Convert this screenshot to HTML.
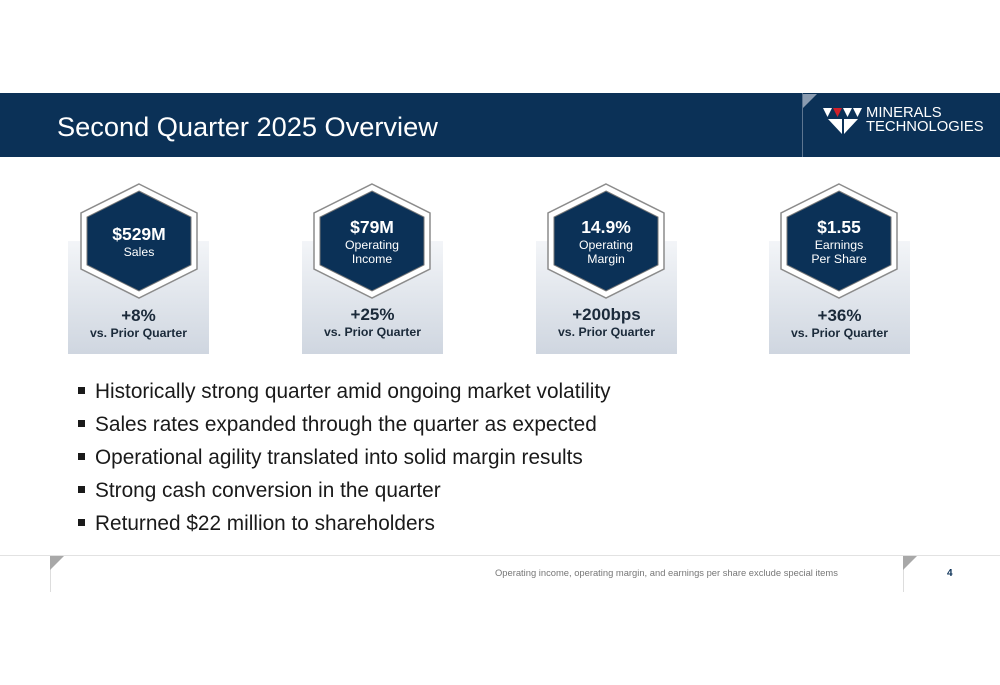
<!DOCTYPE html>
<html><head><meta charset="utf-8"><style>
body{margin:0;width:1000px;height:685px;position:relative;background:#fff;font-family:"Liberation Sans",Arial,sans-serif;overflow:hidden}
.abs{position:absolute}
.box{position:absolute;top:241px;width:141px;height:113px;background:linear-gradient(#f3f5f8,#cfd6e0)}
.pct{position:absolute;width:141px;text-align:center;color:#1b2a3a;font-weight:bold}
.pct .a{font-size:17px;display:block}
.pct .b{font-size:12.3px;display:block}
.hex{position:absolute;top:183px}
.htext{position:absolute;width:120px;text-align:center;color:#fff}
.htext .v{font-size:17.5px;font-weight:bold;display:block}
.htext .l{font-size:12.3px;display:block;line-height:14px}
.bul{position:absolute;left:78px;font-size:20.8px;color:#1a1a1a}
.bul i{display:inline-block;width:7px;height:7px;background:#1a1a1a;margin-right:10px;vertical-align:middle;position:relative;top:-2px}
</style></head><body>
<div class="abs" style="left:0;top:93px;width:1000px;height:64px;background:#0b3157"></div>
<div class="abs" style="left:57px;top:111px;font-size:27.2px;color:#fff">Second Quarter 2025 Overview</div>
<div class="abs" style="left:802px;top:93px;width:1px;height:64px;background:#5d7590"></div>
<svg class="abs" style="left:803px;top:94px" width="14" height="14"><polygon points="0,0 14,0 0,14" fill="#8a9bb0"/></svg>
<svg class="abs" style="left:823px;top:107px" width="40" height="28">
<polygon points="0,1 9,1 4.5,10" fill="#fff"/><polygon points="10,1 19,1 14.5,10" fill="#d0202a"/><polygon points="20,1 29,1 24.5,10" fill="#fff"/><polygon points="30,1 39,1 34.5,10" fill="#fff"/>
<polygon points="5,12 19,12 19,27" fill="#fff"/><polygon points="21,12 35,12 21,27" fill="#fff"/></svg>
<div class="abs" style="left:866px;top:106px;color:#fff;font-size:14.8px;line-height:14px">MINERALS<br>TECHNOLOGIES</div>

<div class="box" style="left:68px"></div>
<div class="box" style="left:302px"></div>
<div class="box" style="left:536px"></div>
<div class="box" style="left:769px"></div>

<svg class="hex" style="left:79px" width="120" height="116"><polygon points="60,1 118,30 118,86 60,115 2,86 2,30" fill="#fff" stroke="#8c8c8c" stroke-width="1.5"/><polygon points="60,8 112,34 112,82 60,108 8,82 8,34" fill="#0b3157" stroke="#777" stroke-width="1"/></svg>
<svg class="hex" style="left:312px" width="120" height="116"><polygon points="60,1 118,30 118,86 60,115 2,86 2,30" fill="#fff" stroke="#8c8c8c" stroke-width="1.5"/><polygon points="60,8 112,34 112,82 60,108 8,82 8,34" fill="#0b3157" stroke="#777" stroke-width="1"/></svg>
<svg class="hex" style="left:546px" width="120" height="116"><polygon points="60,1 118,30 118,86 60,115 2,86 2,30" fill="#fff" stroke="#8c8c8c" stroke-width="1.5"/><polygon points="60,8 112,34 112,82 60,108 8,82 8,34" fill="#0b3157" stroke="#777" stroke-width="1"/></svg>
<svg class="hex" style="left:779px" width="120" height="116"><polygon points="60,1 118,30 118,86 60,115 2,86 2,30" fill="#fff" stroke="#8c8c8c" stroke-width="1.5"/><polygon points="60,8 112,34 112,82 60,108 8,82 8,34" fill="#0b3157" stroke="#777" stroke-width="1"/></svg>

<div class="htext" style="left:79px;top:224px"><span class="v">$529M</span><span class="l">Sales</span></div>
<div class="htext" style="left:312px;top:217px"><span class="v">$79M</span><span class="l">Operating<br>Income</span></div>
<div class="htext" style="left:546px;top:217px"><span class="v">14.9%</span><span class="l">Operating<br>Margin</span></div>
<div class="htext" style="left:779px;top:217px"><span class="v">$1.55</span><span class="l">Earnings<br>Per Share</span></div>

<div class="pct" style="left:68px;top:306px"><span class="a">+8%</span><span class="b">vs. Prior Quarter</span></div>
<div class="pct" style="left:302px;top:305px"><span class="a">+25%</span><span class="b">vs. Prior Quarter</span></div>
<div class="pct" style="left:536px;top:305px"><span class="a">+200bps</span><span class="b">vs. Prior Quarter</span></div>
<div class="pct" style="left:769px;top:306px"><span class="a">+36%</span><span class="b">vs. Prior Quarter</span></div>

<div class="bul" style="top:380px"><i></i>Historically strong quarter amid ongoing market volatility</div>
<div class="bul" style="top:413px"><i></i>Sales rates expanded through the quarter as expected</div>
<div class="bul" style="top:446px"><i></i>Operational agility translated into solid margin results</div>
<div class="bul" style="top:479px"><i></i>Strong cash conversion in the quarter</div>
<div class="bul" style="top:512px"><i></i>Returned $22 million to shareholders</div>

<div class="abs" style="left:0;top:555px;width:1000px;height:1px;background:#e2e2e2"></div>
<div class="abs" style="left:50px;top:556px;width:1px;height:36px;background:#ddd"></div>
<svg class="abs" style="left:50px;top:556px" width="14" height="14"><polygon points="0,0 14,0 0,14" fill="#a8a8a8"/></svg>
<div class="abs" style="left:903px;top:556px;width:1px;height:36px;background:#ddd"></div>
<svg class="abs" style="left:903px;top:556px" width="14" height="14"><polygon points="0,0 14,0 0,14" fill="#a8a8a8"/></svg>
<div class="abs" style="left:495px;top:567px;font-size:9.4px;color:#777">Operating income, operating margin, and earnings per share exclude special items</div>
<div class="abs" style="left:947px;top:568px;font-size:10px;color:#0b3157;font-weight:bold">4</div>
</body></html>
